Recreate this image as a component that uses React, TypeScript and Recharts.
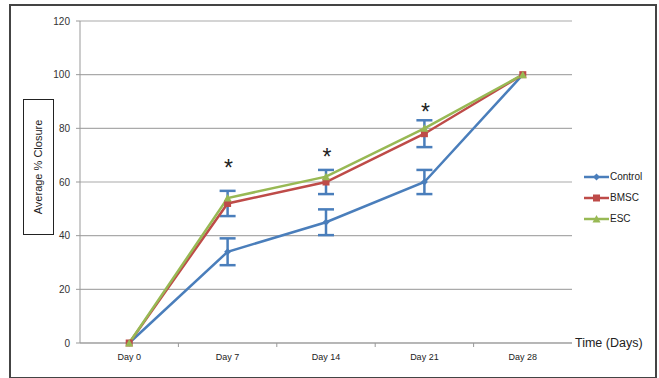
import React from "react"
import { LineChart, Line, XAxis, YAxis, CartesianGrid, ErrorBar } from "recharts"

const days = ["Day 0", "Day 7", "Day 14", "Day 21", "Day 28"]
const control = [0, 34, 45, 60, 100]
const controlErr = [null, 5, 4.8, 4.5, null]
const bmsc = [0, 52, 60, 78, 100]
const bmscErr = [null, 4.7, 4.5, 5, null]
const esc = [0, 54, 62, 80, 100]
// height (in % closure) where the significance asterisk sits
const asteriskLevel = [null, 67, 71, 88, null]
const yTicks = [0, 20, 40, 60, 80, 100, 120]

const data = days.map((day, i) => ({
  day,
  control: control[i],
  controlErr: controlErr[i],
  bmsc: bmsc[i],
  bmscErr: bmscErr[i],
  esc: esc[i],
  star: asteriskLevel[i],
}))

const W = 659
const H = 378
const margin = { top: 21, right: 87, left: 30, bottom: 10 }
const yAxisWidth = 50
const plotWidth = W - margin.left - margin.right - yAxisWidth
const band = plotWidth / days.length

const BLUE = "#4a7ebb"
const RED = "#be4b48"
const GREEN = "#98b954"
const FONT = "'Liberation Sans', Arial, sans-serif"

const Diamond = ({ cx, cy, fill }: any) =>
  cx == null ? <g /> : <polygon points={`${cx},${cy - 3.5} ${cx + 3.5},${cy} ${cx},${cy + 3.5} ${cx - 3.5},${cy}`} fill={fill} />
const Square = ({ cx, cy, fill }: any) =>
  cx == null ? <g /> : <rect x={cx - 3.5} y={cy - 3.5} width={7} height={7} fill={fill} />
const Triangle = ({ cx, cy, fill }: any) =>
  cx == null ? <g /> : <polygon points={`${cx},${cy - 4} ${cx + 4},${cy + 3.5} ${cx - 4},${cy + 3.5}`} fill={fill} />

const series = [
  { key: "control", name: "Control", color: BLUE, Marker: Diamond },
  { key: "bmsc", name: "BMSC", color: RED, Marker: Square },
  { key: "esc", name: "ESC", color: GREEN, Marker: Triangle },
]

const XTick = ({ x, y, payload, index }: any) => (
  <g>
    <text x={x} y={y + 17} textAnchor="middle" fontSize={9} fill="#222" fontFamily={FONT}>
      {payload.value}
    </text>
    {index > 0 && <line x1={x - band / 2} x2={x - band / 2} y1={y} y2={y + 4} stroke="#999" />}
  </g>
)

const Asterisk = ({ cx, cy, value }: any) =>
  value == null || cx == null ? (
    <g />
  ) : (
    <text x={cx + 1} y={cy + 13} textAnchor="middle" fontSize={23} fill="#222" fontFamily={FONT}>
      *
    </text>
  )

export default function App() {
  return (
    <div style={{ position: "absolute", left: 0, top: 0, width: W, height: H, background: "#fff", fontFamily: FONT }}>
      <div
        style={{
          position: "absolute",
          left: 9,
          top: 4,
          width: 644,
          height: 371,
          border: "2px solid #444",
        }}
      />
      <div
        style={{
          position: "absolute",
          left: 23,
          top: 99,
          width: 29,
          height: 134,
          border: "1.5px solid #222",
          display: "flex",
          alignItems: "center",
          justifyContent: "center",
        }}
      >
        <div style={{ transform: "rotate(-90deg)", whiteSpace: "nowrap", fontSize: 11, color: "#222" }}>
          Average % Closure
        </div>
      </div>
      <LineChart width={W} height={H} data={data} margin={margin} style={{ position: "absolute", left: 0, top: 0 }}>
        <CartesianGrid vertical={false} stroke="#aaa" strokeWidth={1.2} />
        <XAxis
          dataKey="day"
          stroke="#999"
          tickLine={false}
          tickSize={0}
          tickMargin={0}
          height={25}
          padding={{ left: band / 2, right: band / 2 }}
          tick={<XTick />}
          interval={0}
          label={{
            content: ({ viewBox }: any) => (
              <text
                x={viewBox.x + viewBox.width + 3}
                y={viewBox.y + 4}
                fontSize={12.5}
                fill="#222"
                fontFamily={FONT}
              >
                Time (Days)
              </text>
            ),
          }}
        />
        <YAxis
          width={yAxisWidth}
          domain={[0, 120]}
          ticks={yTicks}
          stroke="#999"
          tickSize={4}
          tickMargin={6}
          tick={{ fontSize: 10, fill: "#333", fontFamily: FONT }}
        />
        {series.map((s) => (
          <Line
            key={s.key}
            dataKey={s.key}
            name={s.name}
            stroke={s.color}
            strokeWidth={2.5}
            isAnimationActive={false}
            dot={(p: any) => <s.Marker key={`${s.key}-${p.index}`} cx={p.cx} cy={p.cy} fill={s.color} />}
            activeDot={false}
          >
            {s.key === "control" && (
              <ErrorBar dataKey="controlErr" direction="y" width={8} stroke={BLUE} strokeWidth={2.5} />
            )}
            {s.key === "bmsc" && <ErrorBar dataKey="bmscErr" direction="y" width={8} stroke={BLUE} strokeWidth={2.5} />}
          </Line>
        ))}
        <Line
          dataKey="star"
          stroke="none"
          isAnimationActive={false}
          activeDot={false}
          dot={(p: any) => <Asterisk key={`star-${p.index}`} cx={p.cx} cy={p.cy} value={p.value} />}
        />
      </LineChart>
      <div style={{ position: "absolute", left: 584, top: 166 }}>
        {series.map((s) => (
          <div key={s.key} style={{ display: "flex", alignItems: "center", height: 21 }}>
            <svg width={25} height={10}>
              <line x1={0} x2={25} y1={5} y2={5} stroke={s.color} strokeWidth={2.5} />
              <s.Marker cx={12.5} cy={5} fill={s.color} />
            </svg>
            <span style={{ fontSize: 10, color: "#222", marginLeft: 1 }}>{s.name}</span>
          </div>
        ))}
      </div>
    </div>
  )
}
